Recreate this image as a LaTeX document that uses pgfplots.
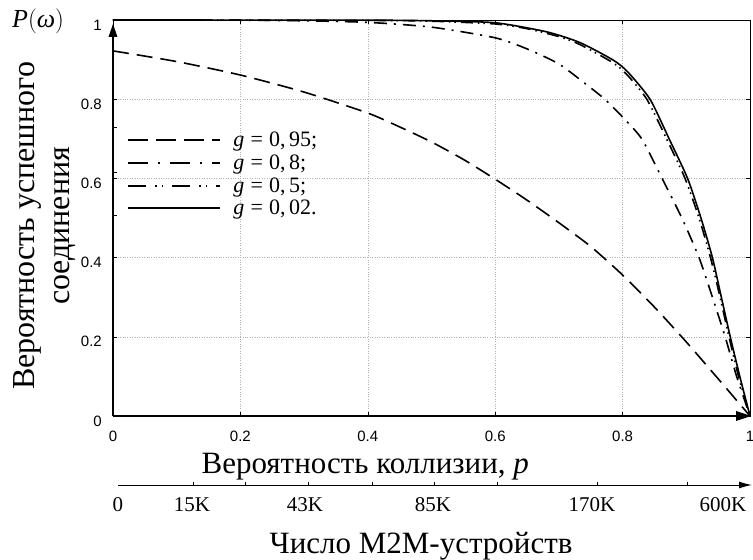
\documentclass[border=0pt]{standalone}
\usepackage{pgfplots}
\pgfplotsset{compat=1.18}
\usepackage{pgfplotstable}
\usepackage{fontspec}
\setmainfont{Liberation Serif}
\newfontfamily\ticksans{Liberation Sans}
\usetikzlibrary{arrows.meta}

\pgfplotstableread{
p P
0 0.922
0.1 0.895
0.2 0.861
0.3 0.818
0.4 0.765
0.45 0.730
0.5 0.692
0.55 0.648
0.6 0.598
0.65 0.545
0.7 0.488
0.75 0.428
0.8 0.356
0.85 0.275
0.9 0.187
0.95 0.094
1.0 0.0
}\gA

\pgfplotstableread{
p P
0 1
0.2 0.9995
0.3 0.998
0.4 0.994
0.5 0.982
0.6 0.955
0.65 0.927
0.7 0.889
0.744 0.836
0.772 0.8
0.8 0.755
0.83 0.70
0.862 0.6
0.893 0.5
0.92 0.4
0.941 0.3
0.961 0.2
0.979 0.1
1 0
}\gB

\pgfplotstableread{
p P
0 1
0.4 0.999
0.5 0.997
0.6 0.99
0.65 0.978
0.7 0.958
0.733 0.938
0.785 0.892
0.808 0.86
0.838 0.8
0.869 0.7
0.898 0.6
0.92 0.5
0.938 0.4
0.953 0.3
0.967 0.2
0.982 0.1
1 0
}\gC

\pgfplotstableread{
p P
0 1
0.4 0.9995
0.5 0.998
0.6 0.993
0.681 0.97
0.733 0.943
0.785 0.899
0.808 0.869
0.843 0.8
0.873 0.7
0.902 0.6
0.923 0.5
0.941 0.4
0.955 0.3
0.969 0.2
0.984 0.1
1 0
}\gD

\begin{document}
\begin{tikzpicture}
\useasboundingbox (-113pt,-144pt) rectangle (640pt,416pt);
\begin{axis}[
  at={(0pt,0pt)}, anchor=south west,
  scale only axis, width=637pt, height=396pt,
  xmin=0, xmax=1, ymin=0, ymax=1,
  xtick={0,0.2,0.4,0.6,0.8,1}, ytick={0,0.2,0.4,0.6,0.8,1},
  extra y ticks={0.73,0.615,0.508}, extra y tick labels={},
  extra y tick style={grid=none, ytick pos=left},
  grid=major, major grid style={gray!60, dotted, line width=0.6pt},
  tick align=inside, major tick length=4pt,
  tick style={black, line width=0.6pt},
  axis line style={line width=0.7pt},
  /pgf/number format/assume math mode=true,
  tick label style={font=\ticksans\fontsize{15}{15}\selectfont},
  xticklabel style={anchor=north, inner sep=0pt, yshift=-15pt},
  yticklabel style={anchor=east, inner sep=0pt, xshift=-11pt, yshift=-5pt},
  xlabel={Вероятность коллизии,\ \textit{p}},
  xlabel style={font=\fontsize{31}{35}\selectfont, at={(axis description cs:0.396,-0.144)}, anchor=base},
  ylabel={Вероятность успешного\\соединения},
  ylabel style={font=\fontsize{32}{35}\selectfont, align=center, at={(axis description cs:-0.108,0.48)}, anchor=center},
  legend cell align=left,
  legend style={draw=none, fill=none, at={(axis cs:0.022,0.722)}, anchor=north west,
    font=\fontsize{22}{22}\selectfont, row sep=2.5pt, inner sep=0pt},
  legend image code/.code={\draw[#1] (0pt,0pt) -- (92pt,0pt); \path (102pt,0pt);},
]
\addplot[black, line width=1.6pt, dash pattern=on 16pt off 8pt, smooth, tension=0.4, forget plot] table[x=p,y=P]{\gA};
\addplot[black, line width=1.6pt, dash pattern=on 13pt off 7pt on 2pt off 7pt, smooth, tension=0.4, forget plot] table[x=p,y=P]{\gB};
\addplot[black, line width=1.6pt, dash pattern=on 12pt off 5pt on 1.5pt off 4pt on 1.5pt off 5pt, smooth, tension=0.4, forget plot] table[x=p,y=P]{\gC};
\addplot[black, line width=1.6pt, smooth, tension=0.4, forget plot] table[x=p,y=P]{\gD};
\addlegendimage{black, line width=2.2pt, dash pattern=on 20pt off 8pt}
\addlegendentry{\textit{g}\;=\;0,\,95;}
\addlegendimage{black, line width=2.2pt, dash pattern=on 20pt off 10pt on 2pt off 10pt}
\addlegendentry{\textit{g}\;=\;0,\,8;}
\addlegendimage{black, line width=2.2pt, dash pattern=on 18pt off 9pt on 1.5pt off 5pt on 1.5pt off 9pt}
\addlegendentry{\textit{g}\;=\;0,\,5;}
\addlegendimage{black, line width=2.2pt}
\addlegendentry{\textit{g}\;=\;0,\,02.}
\end{axis}
\draw[line width=1.6pt] (0pt,0pt) -- (0pt,380pt);
\fill[black] (-4.5pt,379pt) -- (4.5pt,379pt) -- (0pt,392pt) -- cycle;
\draw[line width=1.6pt] (0pt,0pt) -- (624pt,0pt);
\fill[black] (623pt,-5pt) -- (623pt,5pt) -- (638pt,0pt) -- cycle;
\node[anchor=base west, inner sep=0pt, font=\fontsize{26}{30}\selectfont] at (-101pt,388pt) {\textit{P}$\Big($\textit{ω}$\Big)$};
\begin{axis}[
  at={(5pt,-69pt)}, anchor=south west,
  scale only axis, width=634pt, height=1pt,
  xmin=118, xmax=752, ymin=0, ymax=1,
  hide y axis, axis x line=bottom,
  x axis line style={line width=1pt, -{Latex[length=13pt,width=7pt]}},
  xtick={193,245,308,372,434,497,597,687}, xticklabels={},
  tick align=inside, major tick length=3.5pt,
  tick style={black, line width=0.8pt},
  extra x ticks={118,192,305,433,592,723},
  extra x tick labels={0,15K,43K,85K,170K,600K},
  extra x tick style={major tick length=0pt},
  tick label style={font=\fontsize{21}{21}\selectfont},
  xticklabel style={anchor=north, inner sep=0pt, yshift=-12pt},
  xlabel={Число M2M-устройств},
  xlabel style={font=\fontsize{31}{35}\selectfont, at={(axis description cs:0.478,0)}, anchor=base, yshift=-68pt},
]
\addplot[draw=none] coordinates {(118,0) (752,0)};
\end{axis}
\end{tikzpicture}
\end{document}
